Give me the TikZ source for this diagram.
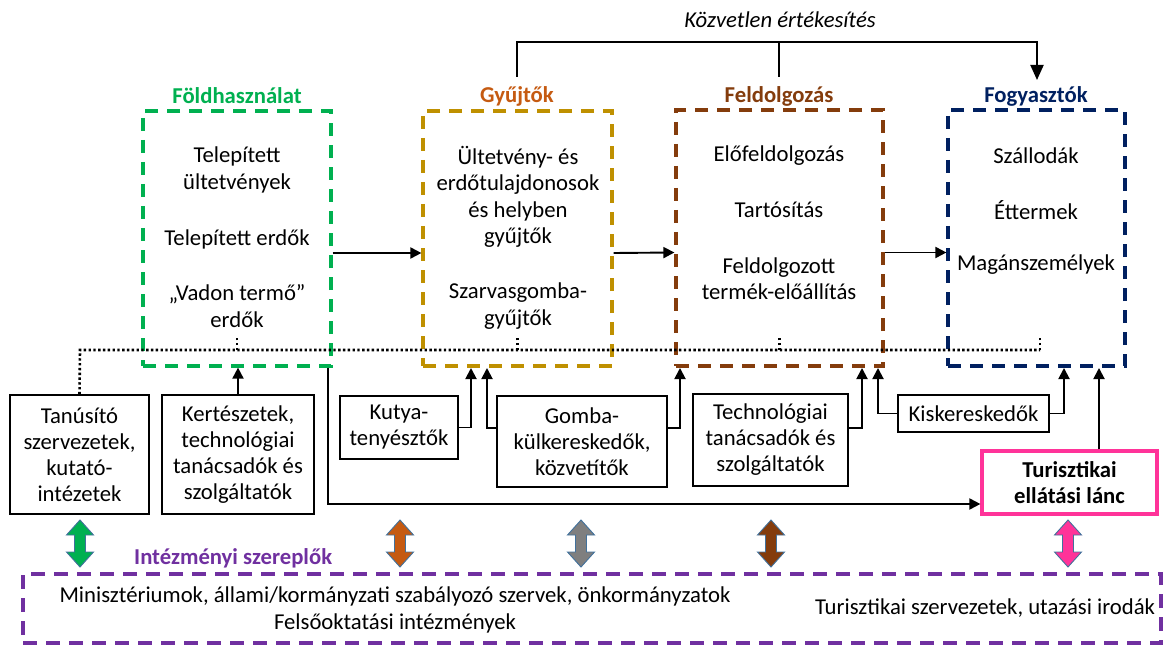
\documentclass[tikz,border=0pt]{standalone}
\usepackage{fontspec}
\setmainfont{Carlito}
\usetikzlibrary{arrows.meta,calc}
\definecolor{cgreen}{HTML}{00B050}
\definecolor{cgold}{HTML}{BF9000}
\definecolor{corange}{HTML}{C55A11}
\definecolor{cbrown}{HTML}{843C0C}
\definecolor{cnavy}{HTML}{002060}
\definecolor{cpurple}{HTML}{7030A0}
\definecolor{cpink}{HTML}{FF3399}
\definecolor{cgray}{HTML}{7F7F7F}
\definecolor{cedge}{HTML}{41719C}
\newcommand\myfs{\fontsize{22.7}{26.5}\selectfont}
\newcommand\mysfs{\fontsize{22.7}{26}\selectfont}
\begin{document}
\begin{tikzpicture}[x=1pt,y=-1pt,
  every node/.style={font=\myfs, inner sep=0pt},
  grpbox/.style={draw, line width=3.2pt, dash pattern=on 13pt off 9pt, rectangle, inner sep=0pt},
  grptitle/.style={font=\myfs\bfseries},
  txt/.style={align=center},
  sbox/.style={draw, line width=1.5pt, align=center, font=\mysfs},
  plain/.style={line width=1.9pt},
  arr/.style={line width=1.9pt, -{Triangle[length=11pt,width=11pt]}},
  bigarr/.style={line width=1.9pt, -{Triangle[length=15pt,width=13pt]}},
  dotline/.style={line width=2.6pt, dash pattern=on 2.4pt off 2.4pt},
  dbl/.pic={\path[pic actions] (0,-23.5) -- (13.5,-8.5) -- (5.5,-8.5) -- (5.5,8.5) -- (13.5,8.5) -- (0,23.5) -- (-13.5,8.5) -- (-5.5,8.5) -- (-5.5,-8.5) -- (-13.5,-8.5) -- cycle;},
  dblarr/.style={fill=#1, draw=cedge, line width=0.9pt, line join=miter}
]
\useasboundingbox (0,0) rectangle (1167,647);

% main group boxes
\node[grpbox, draw=cgreen, minimum width=188pt, minimum height=255pt] (fold) at (237,238.5) {};
\node[grpbox, draw=cgold, minimum width=189pt, minimum height=255pt] (gyu) at (517.5,238.5) {};
\node[grpbox, draw=cbrown, minimum width=207pt, minimum height=256pt] (feld) at (779.5,238) {};
\node[grpbox, draw=cnavy, minimum width=177pt, minimum height=256pt] (fogy) at (1036.5,238) {};

% titles
\node[grptitle, text=cgreen] (foldT) at (237,96) {Földhasználat};
\node[grptitle, text=corange] (gyuT) at (517,96) {Gyűjtők};
\node[grptitle, text=cbrown] (feldT) at (779,96) {Feldolgozás};
\node[grptitle, text=cnavy] (fogyT) at (1036,96) {Fogyasztók};

% contents
\node[txt] (f1) at (237,170) {Telepített\\ültetvények};
\node[txt] (f2) at (237,239) {Telepített erdők};
\node[txt] (f3) at (237,306) {„Vadon termő”\\erdők};
\node[txt] (g1) at (518,197) {Ültetvény- és\\erdőtulajdonosok\\és helyben\\gyűjtők};
\node[txt] (g2) at (518,306) {Szarvasgomba-\\gyűjtők};
\node[txt] (p1) at (779,156) {Előfeldolgozás};
\node[txt] (p2) at (779,210) {Tartósítás};
\node[txt] (p3) at (779,278.5) {Feldolgozott\\termék-előállítás};
\node[txt] (c1) at (1036,156) {Szállodák};
\node[txt] (c2) at (1036,210) {Éttermek};
\node[txt] (c3) at (1036,265) {Magánszemélyek};

% direct sales bracket
\node[font=\myfs\itshape] (kv) at (780,20) {Közvetlen értékesítés};
\coordinate (kvL) at (517,77);
\coordinate (kvM) at (779,77);
\coordinate (kvR) at (1037,80);
\coordinate (kvtop) at (779,42);
\draw[plain] (kvL) |- (kvtop);
\draw[plain] (kvM) -- (kvtop);
\draw[bigarr] (kvtop) -| (kvR);

% horizontal flow arrows
\draw[arr] ([yshift=-14.5pt]fold.east) -- ([yshift=-14.5pt]gyu.west);
\draw[arr] ([yshift=-14.5pt]gyu.east) -- ([yshift=-14.5pt]feld.west);
\draw[arr] ([yshift=-14.5pt]feld.east) -- ([yshift=-14.5pt]fogy.west);

% lower boxes
\node[sbox, minimum width=139pt, minimum height=119pt] (tan) at (79.5,454.5) {Tanúsító\\szervezetek,\\kutató-\\intézetek};
\node[sbox, minimum width=152pt, minimum height=119pt] (kert) at (238,454.5) {Kertészetek,\\technológiai\\tanácsadók és\\szolgáltatók};
\node[sbox, minimum width=118pt, minimum height=63pt] (kut) at (399,427.5) {Kutya-\\tenyésztők};
\node[sbox, minimum width=170pt, minimum height=91pt] (gom) at (582,441.5) {Gomba-\\külkereskedők,\\közvetítők};
\node[sbox, minimum width=155pt, minimum height=92pt] (tech) at (770.5,440) {Technológiai\\tanácsadók és\\szolgáltatók};
\node[sbox, minimum width=151pt, minimum height=37pt] (kis) at (973.5,413.5) {Kiskereskedők};
\node[sbox, draw=cpink, line width=3.2pt, font=\mysfs\bfseries, minimum width=175pt, minimum height=63pt] (tur) at (1069.5,482.5) {Turisztikai\\ellátási lánc};

% dotted line
\coordinate (d0) at (80,350);
\coordinate (dE) at (1040,350);
\draw[dotline] (tan.north) -- (d0) -- (dE);
\draw[dotline] (fold.south |- d0) -- ++(0,-12);
\draw[dotline] (gyu.south |- d0) -- ++(0,-12);
\draw[dotline] (feld.south |- d0) -- ++(0,-12);
\draw[dotline] (dE) -- ++(0,-12);

% arrows from lower boxes
\coordinate (gA) at (471,368);
\coordinate (gB) at (487,368);
\coordinate (pA) at (680,368);
\coordinate (pB) at (862,368);
\coordinate (pC) at (878,368);
\coordinate (cA) at (1064,368);
\coordinate (cB) at (1099,368);
\draw[arr] (kert.north) -- (kert.north |- fold.south);
\draw[arr] (kut.east) -| (gA);
\draw[arr] ([yshift=13.5pt]gom.west) -| (gB);
\draw[arr] ([yshift=13.5pt]gom.east) -| (pA);
\draw[arr] ([yshift=12pt]tech.east) -| (pB);
\draw[arr] (kis.west) -| (pC);
\draw[arr] (kis.east) -| (cA);
\draw[arr] (tur.north -| cB) -- (cB);
\draw[arr] ([xshift=-5pt]fold.south east) |- ([yshift=-21.5pt]tur.west);

% institutional actors
\node[draw=cpurple, line width=3.2pt, dash pattern=on 14pt off 9pt, minimum width=1138pt, minimum height=69pt] (inst) at (592,608.5) {};
\node[font=\myfs\bfseries, text=cpurple, anchor=west] (instT) at (134,558) {Intézményi szereplők};
\node[align=center] (mini) at (395,610) {Minisztériumok, állami/kormányzati szabályozó szervek, önkormányzatok\\Felsőoktatási intézmények};
\node (tsz) at (985,608) {Turisztikai szervezetek, utazási irodák};

% double block arrows
\pic[dblarr=cgreen] at (80,543.5) {dbl};
\pic[dblarr=corange] at (400,543.5) {dbl};
\pic[dblarr=cgray] at (581,543.5) {dbl};
\pic[dblarr=cbrown] at (771,543.5) {dbl};
\pic[dblarr=cpink] at (1068,543.5) {dbl};
\end{tikzpicture}
\end{document}
